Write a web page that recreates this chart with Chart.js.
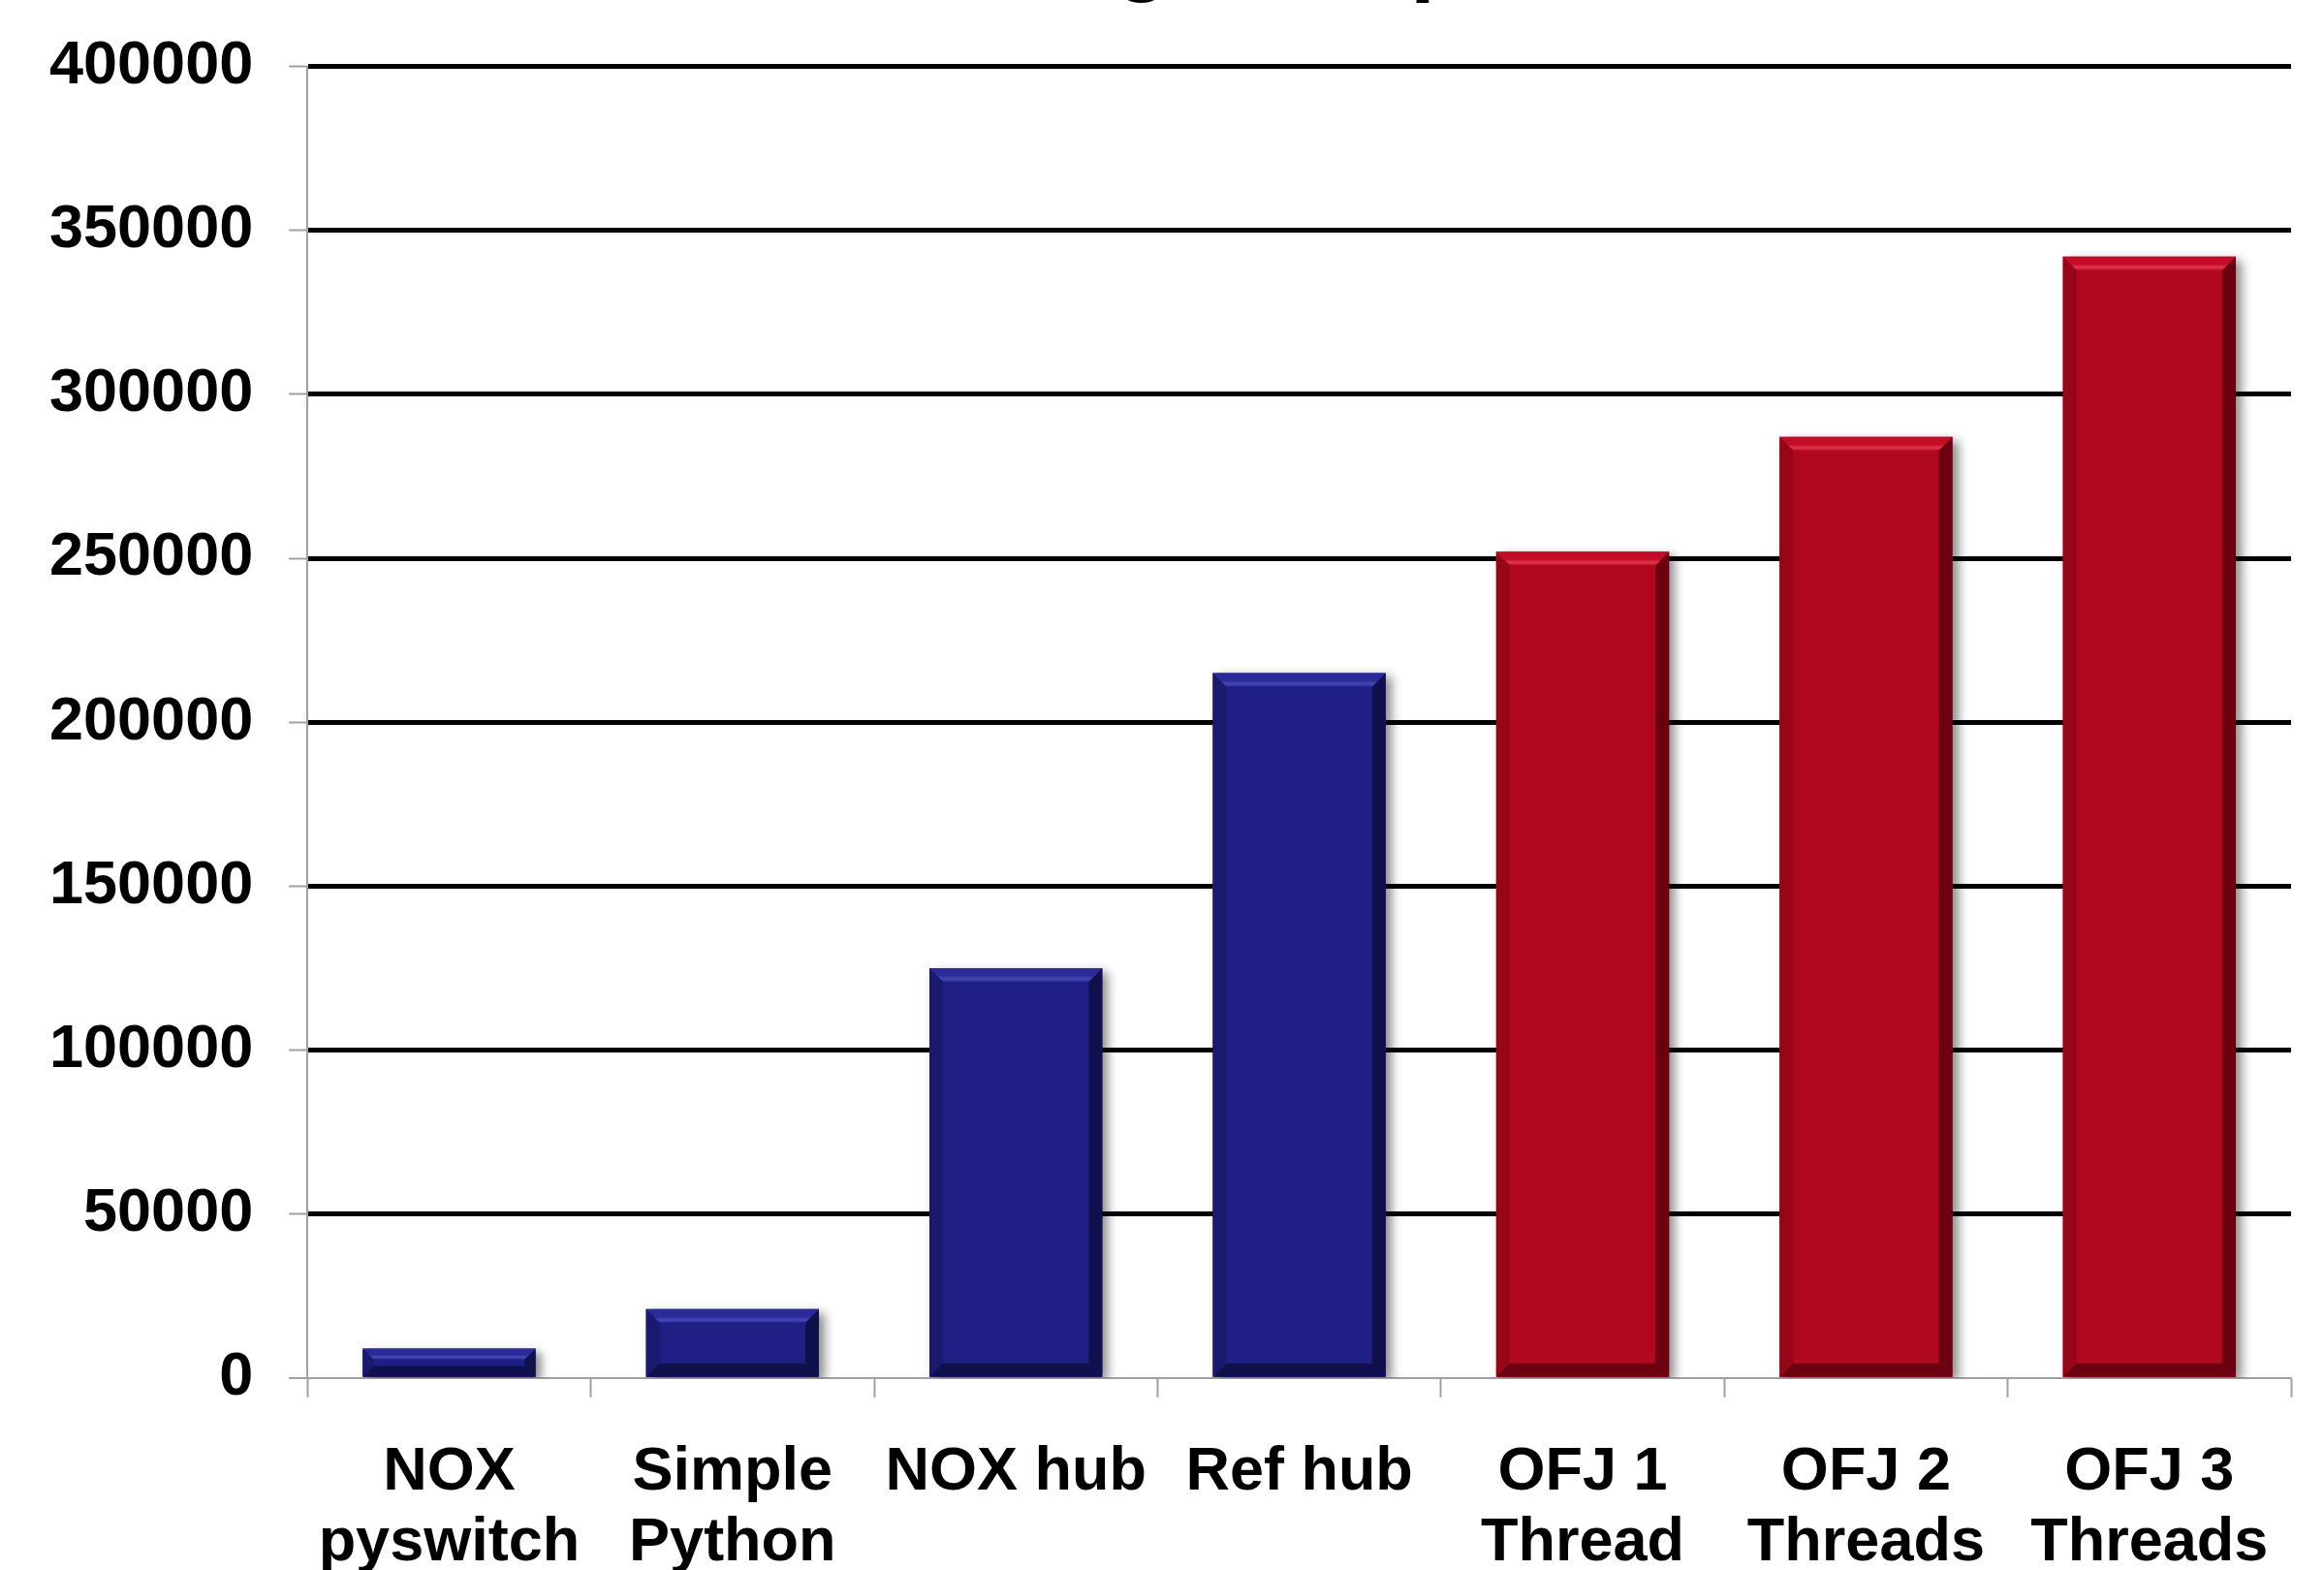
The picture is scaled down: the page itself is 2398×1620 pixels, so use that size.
<!DOCTYPE html>
<html>
<head>
<meta charset="utf-8">
<script src="https://cdn.jsdelivr.net/npm/chart.js@4/dist/chart.umd.min.js"></script>
<style>
  html, body { margin: 0; padding: 0; background: #fff; overflow: hidden; }
  #wrap { position: relative; width: 2398px; height: 1620px; overflow: hidden; }
  #title {
    position: absolute; left: 895px; top: -98px; margin: 0;
    font: bold 93px "Liberation Sans", Arial, sans-serif; line-height: 100px;
    white-space: nowrap; color: #000;
  }
  canvas { position: absolute; left: 0; top: 0; }
</style>
</head>
<body>
<div id="wrap">
  <div id="title">Average Responses</div>
  <canvas id="chart" width="2398" height="1620"></canvas>
</div>
<script>
const categories = [
    ['NOX', 'pyswitch'],
    ['Simple', 'Python'],
    'NOX hub',
    'Ref hub',
    ['OFJ 1', 'Thread'],
    ['OFJ 2', 'Threads'],
    ['OFJ 3', 'Threads'],
];
const throughput = [9000, 21000, 125000, 215000, 252000, 287000, 342000];
const barColors = ['#1f1f85', '#1f1f85', '#1f1f85', '#1f1f85', '#b00820', '#b00820', '#b00820'];
const yMax = 400000;
const yStep = 50000;

const FONT = '"Liberation Sans", Arial, sans-serif';

// light/dark edge colours for the bevel look
const bevelTones = {
    '#1f1f85': { light: '#4646b4', top: '#2a2a98', dark: '#10104d', side: '#19196e' },
    '#b00820': { light: '#e0374f', top: '#c20d28', dark: '#6a0010', side: '#960618' },
};

const bevelPlugin = {
    id: 'bevel',
    beforeDatasetsDraw(chart) {
        const ctx = chart.ctx;
        ctx.save();
        ctx.shadowColor = 'rgba(0,0,0,0.45)';
        ctx.shadowBlur = 10;
        ctx.shadowOffsetX = 6;
        ctx.shadowOffsetY = 4;
    },
    afterDatasetsDraw(chart) {
        const ctx = chart.ctx;
        ctx.restore();
        const meta = chart.getDatasetMeta(0);
        meta.data.forEach((bar, i) => {
            const p = bar.getProps(['x', 'y', 'base', 'width'], true);
            const l = p.x - p.width / 2, r = p.x + p.width / 2;
            const t = p.y, b = p.base;
            const h = b - t;
            const s = Math.min(14, h / 2.6);
            const tone = bevelTones[barColors[i]];
            ctx.save();
            // left edge
            ctx.fillStyle = tone.side;
            ctx.beginPath();
            ctx.moveTo(l, t); ctx.lineTo(l + s, t + s); ctx.lineTo(l + s, b - s); ctx.lineTo(l, b);
            ctx.closePath(); ctx.fill();
            // right edge
            ctx.fillStyle = tone.dark;
            ctx.beginPath();
            ctx.moveTo(r, t); ctx.lineTo(r - s, t + s); ctx.lineTo(r - s, b - s); ctx.lineTo(r, b);
            ctx.closePath(); ctx.fill();
            // bottom edge
            ctx.beginPath();
            ctx.moveTo(l, b); ctx.lineTo(l + s, b - s); ctx.lineTo(r - s, b - s); ctx.lineTo(r, b);
            ctx.closePath(); ctx.fill();
            // top edge, with a light stripe
            const g = ctx.createLinearGradient(0, t, 0, t + s);
            g.addColorStop(0, tone.top);
            g.addColorStop(0.55, tone.top);
            g.addColorStop(0.8, tone.light);
            g.addColorStop(1, tone.top);
            ctx.fillStyle = g;
            ctx.beginPath();
            ctx.moveTo(l, t); ctx.lineTo(r, t); ctx.lineTo(r - s, t + s); ctx.lineTo(l + s, t + s);
            ctx.closePath(); ctx.fill();
            ctx.restore();
        });
    },
};

new Chart(document.getElementById('chart').getContext('2d'), {
    type: 'bar',
    data: {
        labels: categories,
        datasets: [{
            data: throughput,
            backgroundColor: barColors,
            borderWidth: 0,
            barPercentage: 0.61,
            categoryPercentage: 1.0,
        }],
    },
    options: {
        responsive: false,
        animation: false,
        devicePixelRatio: 1,
        layout: {
            padding: { left: 14, right: 34, top: 32, bottom: -50 },
        },
        plugins: {
            legend: { display: false },
            tooltip: { enabled: false },
        },
        scales: {
            x: {
                offset: true,
                grid: {
                    offset: true,
                    drawOnChartArea: false,
                    drawTicks: true,
                    tickLength: 20,
                    tickColor: '#a0a0a0',
                    tickWidth: 2,
                },
                border: { display: true, color: '#a0a0a0', width: 2 },
                ticks: {
                    color: '#000',
                    font: { family: FONT, size: 63, weight: 'bold', lineHeight: 1.16 },
                    padding: 41,
                    maxRotation: 0,
                    autoSkip: false,
                },
            },
            y: {
                min: 0,
                max: yMax,
                grid: {
                    color: (c) => (c.tick && c.tick.value === 0 ? '#a0a0a0' : '#000'),
                    lineWidth: (c) => (c.tick && c.tick.value === 0 ? 2 : 5),
                    drawTicks: true,
                    tickLength: 19,
                    tickColor: '#a0a0a0',
                    tickWidth: 2,
                },
                border: { display: true, color: '#a0a0a0', width: 2 },
                ticks: {
                    stepSize: yStep,
                    color: '#000',
                    font: { family: FONT, size: 63, weight: 'bold', lineHeight: 1.0 },
                    padding: 37,
                    callback: (v) => String(v),
                },
            },
        },
    },
    plugins: [bevelPlugin],
});
</script>
</body>
</html>
